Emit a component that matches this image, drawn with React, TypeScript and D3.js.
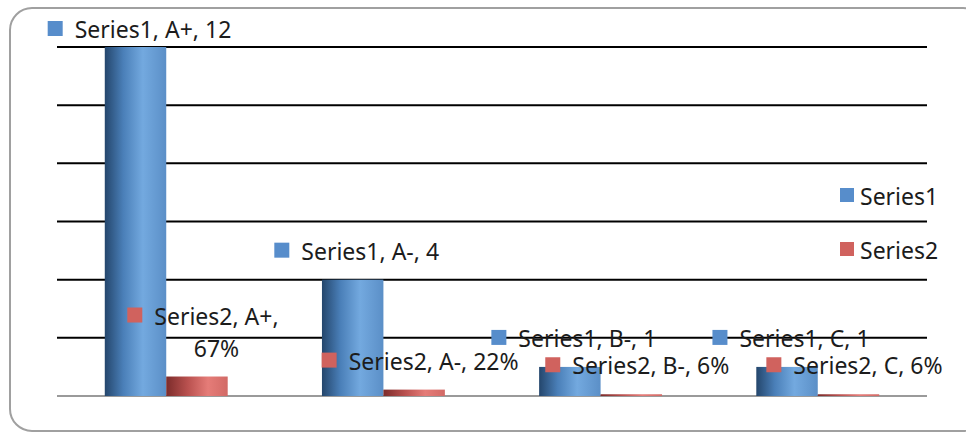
import * as React from 'react'
import { useEffect, useRef } from 'react'
import * as d3 from 'd3'

const categories = ['A+', 'A-', 'B-', 'C']
const series1 = [12, 4, 1, 1]
const series2 = [0.67, 0.22, 0.06, 0.06]
const series2Labels = ['67%', '22%', '6%', '6%']
const seriesNames = ['Series1', 'Series2']
const yTicks = [0, 2, 4, 6, 8, 10, 12]

const W = 966
const H = 432
const margin = { top: 47, right: 39, bottom: 36, left: 57 }
const FONT = '"Noto Sans", "Open Sans", sans-serif'
const FS = 23

const App = () => {
  const ref = useRef<HTMLDivElement | null>(null)

  useEffect(() => {
    const svg = d3.select(ref.current)
      .append('svg')
      .attr('width', W)
      .attr('height', H)
      .style('position', 'absolute')
      .style('left', 0)
      .style('top', 0)
      .style('font-family', FONT)

    const defs = svg.append('defs')
    const blue = defs.append('linearGradient').attr('id', 'gBlue')
    blue.append('stop').attr('offset', '0%').attr('stop-color', '#24466c')
    blue.append('stop').attr('offset', '30%').attr('stop-color', '#4a7fb8')
    blue.append('stop').attr('offset', '62%').attr('stop-color', '#73a9df')
    blue.append('stop').attr('offset', '100%').attr('stop-color', '#5b8fc7')
    const red = defs.append('linearGradient').attr('id', 'gRed')
    red.append('stop').attr('offset', '0%').attr('stop-color', '#7c2c2b')
    red.append('stop').attr('offset', '35%').attr('stop-color', '#b9514f')
    red.append('stop').attr('offset', '68%').attr('stop-color', '#e57c78')
    red.append('stop').attr('offset', '100%').attr('stop-color', '#d26a66')

    // frame
    svg.append('rect')
      .attr('x', 10).attr('y', 8)
      .attr('width', 975).attr('height', 423)
      .attr('rx', 22)
      .attr('fill', '#fff')
      .attr('stroke', '#a0a0a0')
      .attr('stroke-width', 2)

    const x0 = d3.scaleBand().domain(categories).range([margin.left, W - margin.right]).paddingInner(0.434).paddingOuter(0.22)
    const x1 = d3.scaleBand().domain(seriesNames).range([0, x0.bandwidth()])
    const y = d3.scaleLinear().domain([0, 12]).range([H - margin.bottom, margin.top])

    // gridlines
    svg.append('g')
      .selectAll('line')
      .data(yTicks)
      .enter()
      .append('line')
      .attr('x1', margin.left)
      .attr('x2', W - margin.right)
      .attr('y1', d => y(d))
      .attr('y2', d => y(d))
      .attr('stroke', d => d === 0 ? '#9a9a9a' : '#000')
      .attr('stroke-width', 2)

    const data = [series1, series2]
    const fills = ['url(#gBlue)', 'url(#gRed)']
    data.forEach((vals, si) => {
      svg.append('g')
        .selectAll('rect')
        .data(vals)
        .enter()
        .append('rect')
        // @ts-ignore
        .attr('x', (d, i) => x0(categories[i]) + x1(seriesNames[si]))
        .attr('y', d => y(d))
        .attr('width', x1.bandwidth())
        .attr('height', d => y(0) - y(d))
        .attr('fill', fills[si])
    })

    const markerColors = ['#578dcb', '#d0625e']
    const lbl = svg.append('g').attr('font-size', FS).attr('fill', '#1c1c1c')

    const drawLabel = (cx: number, baseline: number, lines: string[], color: string) => {
      const g = lbl.append('g')
      const by = baseline - (lines.length - 1) * 32
      const t = g.append('text').attr('y', by).text(lines[0])
      const w = (t.node() as SVGTextElement).getComputedTextLength()
      const start = cx - (15 + 12 + w) / 2
      t.attr('x', start + 27)
      g.append('rect').attr('x', start).attr('y', by - 17).attr('width', 15).attr('height', 15).attr('fill', color)
      lines.slice(1).forEach((ln, k) => {
        g.append('text')
          .attr('x', start + 27 + w / 2)
          .attr('y', by + (k + 1) * 32)
          .attr('text-anchor', 'middle')
          .text(ln)
      })
    }

    categories.forEach((c, i) => {
      // @ts-ignore
      const cx1 = x0(c) + x1('Series1') + x1.bandwidth() / 2 + 4
      drawLabel(cx1, Math.max(y(series1[i]) - 20, 38), [`Series1, ${c}, ${series1[i]}`], markerColors[0])
      // @ts-ignore
      const cx2 = x0(c) + x1('Series2') + x1.bandwidth() / 2 + 6
      const lines = i === 0 ? [`Series2, ${c},`, series2Labels[i]] : [`Series2, ${c}, ${series2Labels[i]}`]
      drawLabel(cx2, y(series2[i]) - 20, lines, markerColors[1])
    })

    // legend
    const leg = svg.append('g').attr('font-size', FS).attr('fill', '#1c1c1c')
    seriesNames.forEach((s, i) => {
      leg.append('rect').attr('x', 840).attr('y', 188 + i * 54).attr('width', 14).attr('height', 14).attr('fill', markerColors[i])
      leg.append('text').attr('x', 860).attr('y', 205 + i * 54).text(s)
    })

    return () => {
      svg.remove()
    }
  }, [])

  return <div ref={ref} />
}

export default App
